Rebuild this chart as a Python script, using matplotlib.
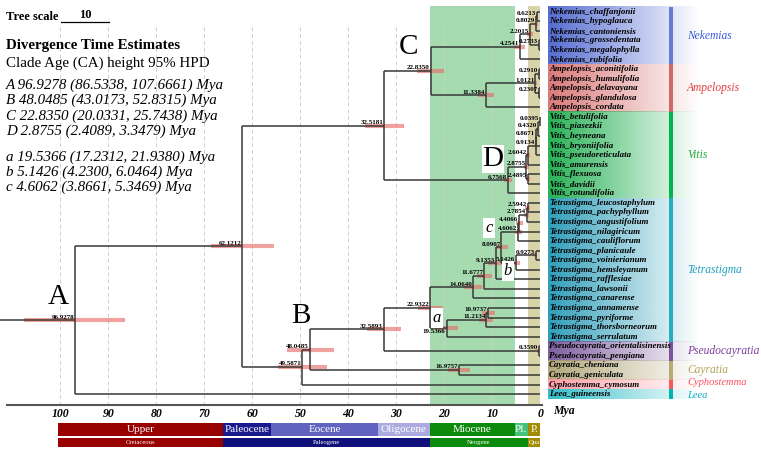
import numpy as np
import matplotlib
matplotlib.use('Agg')
import matplotlib.pyplot as plt
from matplotlib.colors import to_rgb

plt.rcParams['font.family'] = ['Liberation Serif', 'DejaVu Serif']

# tips, top to bottom
tips = ['Nekemias_chaffanjonii', 'Nekemias_hypoglauca', 'Nekemias_cantoniensis',
        'Nekemias_grossedentata', 'Nekemias_megalophylla', 'Nekemias_rubifolia',
        'Ampelopsis_aconitifolia', 'Ampelopsis_humulifolia', 'Ampelopsis_delavayana',
        'Ampelopsis_glandulosa', 'Ampelopsis_cordata',
        'Vitis_betulifolia', 'Vitis_piasezkii', 'Vitis_heyneana', 'Vitis_bryoniifolia',
        'Vitis_pseudoreticulata', 'Vitis_amurensis', 'Vitis_flexuosa', 'Vitis_davidii',
        'Vitis_rotundifolia',
        'Tetrastigma_leucostaphylum', 'Tetrastigma_pachyphyllum', 'Tetrastigma_angustifolium',
        'Tetrastigma_nilagiricum', 'Tetrastigma_cauliflorum', 'Tetrastigma_planicaule',
        'Tetrastigma_voinierianum', 'Tetrastigma_hemsleyanum', 'Tetrastigma_rafflesiae',
        'Tetrastigma_lawsonii', 'Tetrastigma_canarense', 'Tetrastigma_annamense',
        'Tetrastigma_pyriforme', 'Tetrastigma_thorsborneorum', 'Tetrastigma_serrulatum',
        'Pseudocayratia_orientalisinensis', 'Pseudocayratia_pengiana',
        'Cayratia_cheniana', 'Cayratia_geniculata',
        'Cyphostemma_cymosum', 'Leea_guineensis']

# internal nodes (children listed before parents)
node_names = ['nek1', 'nek2', 'nek3', 'nek4', 'nek',
              'amp1', 'amp2', 'amp3', 'amp', 'C',
              'vit1', 'vit2', 'vit3', 'vit4', 'vit5', 'vit6', 'D', 'vit', 'core',
              'tet1', 'tet2', 'tet3', 'c', 'tet4', 'b', 'tet5', 'tet6', 'tet7', 'tet8',
              'tet9', 'tet10', 'a', 'tet', 'pse', 'tetpse', 'cay', 'B', 'n49', 'n62', 'A']
node_ages = [0.6213, 0.8029, 0.2733, 2.2015, 4.2541,
             0.2910, 0.2307, 1.0121, 11.3384, 22.8350,
             0.0395, 0.4320, 0.8671, 0.9134, 2.6042, 2.4895, 2.8755, 6.7568, 32.5181,
             2.5942, 2.7854, 4.4066, 4.6062, 0.9273, 5.1426, 8.0907, 9.1353, 11.6777, 14.0640,
             10.9737, 11.2134, 19.5366, 22.9322, 0.3590, 32.5893, 16.9757, 48.0485, 49.5871,
             62.1212, 96.9278]
node_lo = [0.40, 0.55, 0.10, 1.60, 3.20,
           0.12, 0.08, 0.70, 9.60, 20.0331,
           0.00, 0.28, 0.62, 0.68, 2.18, 2.05, 2.4089, 5.90, 28.5,
           2.10, 2.30, 3.70, 3.8661, 0.60, 4.2300, 6.80, 8.00, 10.1, 12.2,
           9.40, 9.80, 17.2312, 20.2, 0.15, 29.0, 14.6, 43.0173, 44.5,
           55.5, 86.5338]
node_hi = [0.88, 1.10, 0.48, 2.85, 5.40,
           0.50, 0.42, 1.40, 13.0, 25.7438,
           0.10, 0.60, 1.12, 1.20, 3.05, 2.95, 3.3479, 7.50, 36.6,
           3.10, 3.30, 5.10, 5.3469, 1.30, 6.0464, 9.20, 10.9, 13.2, 15.8,
           12.2, 12.7, 21.9380, 25.4, 0.60, 36.2, 19.2, 52.8315, 54.7,
           68.6, 107.6661]
node_kids = [('Nekemias_chaffanjonii', 'Nekemias_hypoglauca'),
             ('nek1', 'Nekemias_cantoniensis'),
             ('Nekemias_grossedentata', 'Nekemias_megalophylla'),
             ('nek2', 'nek3'),
             ('nek4', 'Nekemias_rubifolia'),
             ('Ampelopsis_aconitifolia', 'Ampelopsis_humulifolia'),
             ('Ampelopsis_delavayana', 'Ampelopsis_glandulosa'),
             ('amp1', 'amp2'),
             ('amp3', 'Ampelopsis_cordata'),
             ('nek', 'amp'),
             ('Vitis_betulifolia', 'Vitis_piasezkii'),
             ('vit1', 'Vitis_heyneana'),
             ('vit2', 'Vitis_bryoniifolia'),
             ('vit3', 'Vitis_pseudoreticulata'),
             ('vit4', 'Vitis_amurensis'),
             ('Vitis_flexuosa', 'Vitis_davidii'),
             ('vit5', 'vit6'),
             ('D', 'Vitis_rotundifolia'),
             ('C', 'vit'),
             ('Tetrastigma_leucostaphylum', 'Tetrastigma_pachyphyllum'),
             ('tet1', 'Tetrastigma_angustifolium'),
             ('tet2', 'Tetrastigma_nilagiricum'),
             ('tet3', 'Tetrastigma_cauliflorum'),
             ('Tetrastigma_planicaule', 'Tetrastigma_voinierianum'),
             ('tet4', 'Tetrastigma_hemsleyanum'),
             ('c', 'b'),
             ('tet5', 'Tetrastigma_rafflesiae'),
             ('tet6', 'Tetrastigma_lawsonii'),
             ('tet7', 'Tetrastigma_canarense'),
             ('Tetrastigma_annamense', 'Tetrastigma_pyriforme'),
             ('tet9', 'Tetrastigma_thorsborneorum'),
             ('tet10', 'Tetrastigma_serrulatum'),
             ('tet8', 'a'),
             ('Pseudocayratia_orientalisinensis', 'Pseudocayratia_pengiana'),
             ('tet', 'pse'),
             ('Cayratia_cheniana', 'Cayratia_geniculata'),
             ('tetpse', 'cay'),
             ('B', 'Cyphostemma_cymosum'),
             ('core', 'n49'),
             ('n62', 'Leea_guineensis')]
root_stem = 112.5

clade_names = ['Nekemias', 'Ampelopsis', 'Vitis', 'Tetrastigma', 'Pseudocayratia',
               'Cayratia', 'Cyphostemma', 'Leea']
clade_first = [0, 6, 11, 20, 35, 37, 39, 40]
clade_last = [5, 10, 19, 34, 36, 38, 39, 40]
band_colors = ['#465fcd', '#d76e6e', '#14aa46', '#1e96b4', '#735096', '#aaa06e', '#ff96a0', '#1eb9c3']
bar_colors = ['#647dd2', '#cd6969', '#00b450', '#28aac3', '#7d5596', '#b9aa73', '#fa5a5a', '#00b4af']
name_colors = ['#3a5ad8', '#e03c3c', '#1fa83a', '#1da0c0', '#7a3d9b', '#b4a35c', '#ff4d5e', '#10aec0']

epochs = ['Upper', 'Paleocene', 'Eocene', 'Oligocene', 'Miocene', 'Pl.', 'P.']
epoch_start = [100.5, 66.0, 56.0, 33.9, 23.03, 5.333, 2.58]
epoch_end = [66.0, 56.0, 33.9, 23.03, 5.333, 2.58, 0.0]
epoch_colors = ['#990000', '#1a1a8c', '#6262c0', '#ababdf', '#0b8a0b', '#45c27a', '#a08c00']
periods = ['Cretaceous', 'Paleogene', 'Neogene', 'Qua']
period_start = [100.5, 66.0, 23.03, 2.58]
period_end = [66.0, 23.03, 2.58, 0.0]
period_colors = ['#990000', '#10107a', '#0b8a0b', '#a08c00']

ticks = [100, 90, 80, 70, 60, 50, 40, 30, 20, 10, 0]


# pixel layout helpers
def mya(px):
    return (540.3 - px) / 4.8


def row(py):
    return (py - 11.7) / 9.56


fig = plt.figure(figsize=(7.61, 4.53), dpi=100)
ax = fig.add_axes([0, 0, 1, 1])
ax.axis('off')

# background bands: Miocene and Pleistocene
ax.fill_between([23.03, 5.333], row(6), row(405), color='#a6dbb0', zorder=0, lw=0)
ax.fill_between([2.58, 0.0], row(6), row(405), color='#d8d4aa', zorder=0, lw=0)

for t in ticks[:-1]:
    ax.plot([t, t], [row(27), row(405)], ls=(0, (4, 3)), color='#cfcfcf', lw=0.7, zorder=1)

# tree layout
ypos = {name: i for i, name in enumerate(tips)}
age = {name: 0.0 for name in tips}
for name, a_, kids in zip(node_names, node_ages, node_kids):
    ypos[name] = np.mean([ypos[k] for k in kids])
    age[name] = a_

line_kw = dict(color='#383838', lw=1.1, zorder=3, solid_capstyle='butt')
for name, kids in zip(node_names, node_kids):
    ys = [ypos[k] for k in kids]
    ax.plot([age[name], age[name]], [min(ys), max(ys)], **line_kw)
    for k in kids:
        ax.plot([age[name], age[k]], [ypos[k], ypos[k]], **line_kw)
ax.plot([root_stem, age['A']], [ypos['A'], ypos['A']], **line_kw)

# HPD bars and node ages
for name, lo, hi in zip(node_names, node_lo, node_hi):
    ax.plot([hi, lo], [ypos[name], ypos[name]], color='#e8706a', alpha=0.65, lw=3,
            solid_capstyle='butt', zorder=2)
    if name == 'a':
        ax.text(age[name] + 0.2, ypos[name] + 0.05, f'{age[name]:.4f}', ha='right', va='top',
                fontsize=5, fontweight='bold', zorder=5)
    else:
        ax.text(age[name] + 0.2, ypos[name] - 0.08, f'{age[name]:.4f}', ha='right', va='bottom',
                fontsize=5, fontweight='bold', zorder=5)

# big clade letters
for letter, px, py in [('A', 58, 297), ('B', 301, 316), ('C', 409, 47), ('D', 493, 159)]:
    bb = dict(facecolor='white', edgecolor='none', pad=0.5) if letter == 'D' else None
    ax.text(mya(px), row(py), letter, ha='center', va='center', fontsize=21, bbox=bb, zorder=6)
for letter, px, py in [('a', 437, 318), ('b', 508, 271), ('c', 489, 228)]:
    ax.text(mya(px), row(py), letter, ha='center', va='center', fontsize=12, style='italic',
            bbox=dict(facecolor='white', edgecolor='none', pad=1.5), zorder=6)

# tip label bands
xs = np.linspace(0, 1, 200)
name_nudge = [0, 0, 0, 0, 0, 0, -0.17, 0.17]
name_size = [8.3, 8.3, 8.3, 8.3, 8.3, 8.3, 7.6, 7.6]
for i, cname in enumerate(clade_names):
    rgba = np.zeros((1, len(xs), 4))
    rgba[0, :, :3] = to_rgb(band_colors[i])
    rgba[0, :, 3] = 0.92 * (1 - xs)
    ax.imshow(rgba, extent=(mya(548), mya(700), clade_last[i] + 0.5, clade_first[i] - 0.5),
              aspect='auto', zorder=1, interpolation='bilinear')
    n = clade_last[i] - clade_first[i] + 1
    ax.barh((clade_first[i] + clade_last[i]) / 2, mya(669) - mya(673), left=mya(673), height=n,
            color=bar_colors[i], zorder=2)
    ax.text(mya(687), (clade_first[i] + clade_last[i]) / 2 + name_nudge[i], cname, ha='left',
            va='center', fontsize=name_size[i], style='italic', color=name_colors[i], zorder=5)

for name in tips:
    ax.text(mya(549), ypos[name], name, ha='left', va='center', fontsize=6.4,
            style='italic', fontweight='bold', zorder=5)

# time axis
ax.plot([mya(6.5), mya(542)], [row(405), row(405)], color='#555555', lw=1.5, zorder=3)
for t in ticks:
    ax.text(t, row(414.5), str(t), ha='center', va='center', fontsize=8.5,
            style='italic', fontweight='bold')
ax.text(mya(553), row(411), 'Mya', ha='left', va='center', fontsize=8.5,
        style='italic', fontweight='bold')

# geological time scale
ax.barh(row(429.5), np.subtract(epoch_start, epoch_end), left=epoch_end, height=13.5 / 9.56,
        color=epoch_colors, edgecolor='none')
for name, s, e in zip(epochs, epoch_start, epoch_end):
    ax.text((s + e) / 2, row(429.5), name, ha='center', va='center', fontsize=8, color='white')
ax.barh(row(442.5), np.subtract(period_start, period_end), left=period_end, height=9.8 / 9.56,
        color=period_colors, edgecolor='none')
for name, s, e in zip(periods, period_start, period_end):
    ax.text((s + e) / 2, row(442.5), name, ha='center', va='center', fontsize=4.8, color='white')

# tree scale
ax.plot([mya(61), mya(61) - 10], [row(22.5), row(22.5)], color='black', lw=0.9)
ax.text(mya(61) - 5, row(21), '10', ha='center', va='bottom', fontsize=9, fontweight='bold')
ax.text(mya(6), row(17), 'Tree scale', ha='left', va='center', fontsize=9, fontweight='bold')

ax.text(mya(6), row(45), 'Divergence Time Estimates', ha='left', va='center',
        fontsize=10.8, fontweight='bold')
ax.text(mya(6), row(63), 'Clade Age (CA) height 95% HPD', ha='left', va='center', fontsize=10.8)
legend_rows = {'A': 85, 'B': 100.5, 'C': 116, 'D': 131, 'a': 157, 'b': 172, 'c': 187}
for name, lo, hi in zip(node_names, node_lo, node_hi):
    if name in legend_rows:
        ax.text(mya(6), row(legend_rows[name]), f'{name} {age[name]:.4f} ({lo:.4f}, {hi:.4f}) Mya',
                ha='left', va='center', fontsize=10.8, style='italic')

ax.set_xlim(mya(0), mya(761))
ax.set_ylim(row(453), row(0))

fig.savefig('out.png', dpi=100)
